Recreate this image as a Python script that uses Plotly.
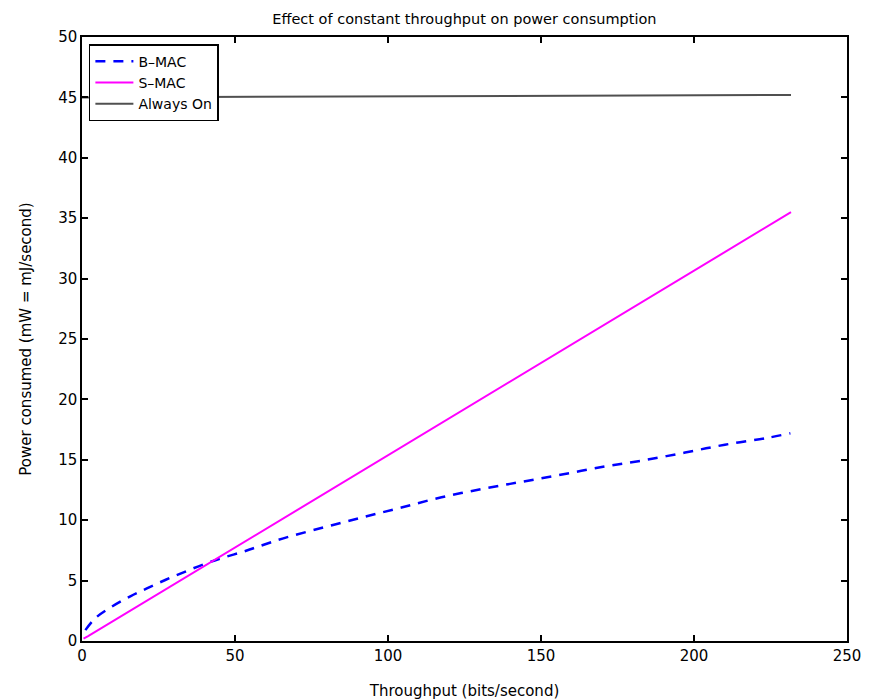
import plotly.graph_objects as go

# Throughput (bits/second) and power (mW)
bmac_x = [1.1, 4.4, 9.8, 15.8, 21.2, 27.2, 33.8, 40.8, 46.8, 53.4, 58, 65.8, 78.9, 91.9,
          104.4, 117.5, 131.1, 144.2, 157.3, 170.9, 183.4, 197.1, 210.1, 223.7, 231.5]
bmac_y = [0.9, 1.9, 2.85, 3.7, 4.35, 5.05, 5.75, 6.45, 6.95, 7.45, 7.85, 8.5, 9.4, 10.25,
          11.05, 11.9, 12.6, 13.2, 13.8, 14.45, 14.95, 15.6, 16.25, 16.8, 17.2]
smac_x = [0.5, 2, 231.7]
smac_y = [0.2, 0.4, 35.5]
always_x = [0, 231.7]
always_y = [45.0, 45.2]

font = "DejaVu Sans, Verdana, sans-serif"

fig = go.Figure()
fig.add_trace(go.Scatter(x=bmac_x, y=bmac_y, mode="lines", name="B\u2013MAC",
                         line=dict(color="#0000ff", width=2.5, dash="10px,8px"),
                         line_shape="spline"))
fig.add_trace(go.Scatter(x=smac_x, y=smac_y, mode="lines", name="S\u2013MAC",
                         line=dict(color="#ff00ff", width=2)))
fig.add_trace(go.Scatter(x=always_x, y=always_y, mode="lines", name="Always On",
                         line=dict(color="#505050", width=2)))

axis_common = dict(showline=True, linecolor="black", linewidth=1.5, mirror="ticks",
                   ticks="inside", ticklen=6, tickcolor="black", tickwidth=1.5,
                   showgrid=False, zeroline=False, automargin=False,
                   tickfont=dict(family=font, size=15, color="black"))

fig.update_layout(
    width=871, height=699,
    margin=dict(l=74, r=32, t=29, b=66),
    paper_bgcolor="white", plot_bgcolor="white",
    title=dict(text="Effect of constant throughput on power consumption",
               x=0.524, xanchor="center", y=0.985, yanchor="middle",
               font=dict(family=font, size=14.5, color="black")),
    xaxis=dict(range=[0, 250], tickvals=[0, 50, 100, 150, 200, 250],
               title=dict(text="Throughput (bits/second)", standoff=22,
                          font=dict(family=font, size=15, color="black")),
               **axis_common),
    yaxis=dict(range=[0, 50], tickvals=list(range(0, 51, 5)),
               title=dict(text="Power consumed (mW = mJ/second)", standoff=23,
                          font=dict(family=font, size=15, color="black")),
               **axis_common),
    legend=dict(x=0.009, y=0.988, xanchor="left", yanchor="top",
                bgcolor="white", bordercolor="black", borderwidth=1.5,
                font=dict(family=font, size=14, color="black"),
                tracegroupgap=0, itemwidth=38),
    showlegend=True,
)

fig.write_html("out.html")
